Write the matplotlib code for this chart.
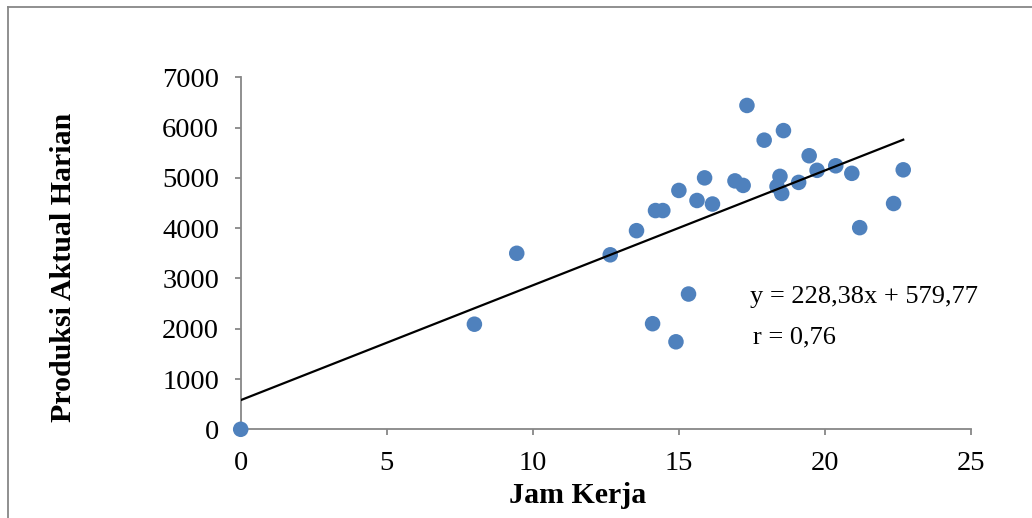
import matplotlib
matplotlib.use("Agg")
import matplotlib.pyplot as plt
from matplotlib.lines import Line2D
import numpy as np

# Data
jam_kerja = [0, 8.0, 9.45, 12.65, 13.55, 14.2, 14.45, 14.1, 14.9, 15.0, 15.33,
             15.62, 15.88, 16.15, 16.92, 17.2, 17.33, 17.92, 18.58, 18.36,
             18.46, 18.52, 19.1, 19.46, 19.73, 20.37, 20.92, 21.19, 22.35, 22.68]
produksi = [0, 2090, 3500, 3470, 3950, 4350, 4350, 2100, 1740, 4750, 2690,
            4550, 5000, 4480, 4940, 4850, 6440, 5750, 5940, 4830,
            5030, 4690, 4910, 5440, 5150, 5240, 5090, 4010, 4490, 5160]
slope = 228.38
intercept = 579.77
eq_label = "y = 228,38x + 579,77"
r_label = "r = 0,76"
x_ticks = [0, 5, 10, 15, 20, 25]
y_ticks = [0, 1000, 2000, 3000, 4000, 5000, 6000, 7000]

W, H = 1032, 518
fig = plt.figure(figsize=(W / 100, H / 100), dpi=100)
plt.rcParams['font.family'] = ['Liberation Serif', 'DejaVu Serif']

ax = fig.add_axes([240.7 / W, 1 - 429.3 / H, (971 - 240.7) / W, (429.3 - 77.3) / H])
ax.set_xlim(0, 25)
ax.set_ylim(0, 7000)

grey = '#878787'
for s in ['top', 'right']:
    ax.spines[s].set_visible(False)
for s in ['left', 'bottom']:
    ax.spines[s].set_color(grey)
    ax.spines[s].set_linewidth(1.3)

ax.set_xticks(x_ticks)
ax.set_yticks(y_ticks)
ax.set_xticklabels([str(v) for v in x_ticks])
ax.set_yticklabels([str(v) for v in y_ticks])
ax.tick_params(axis='both', direction='out', length=4.5, width=1.3, color=grey,
               labelsize=20.5, labelcolor='black')
ax.tick_params(axis='y', pad=11)
ax.tick_params(axis='x', pad=11)

ax.scatter(jam_kerja, produksi, s=125, color='#4F81BD', edgecolors='none',
           zorder=3, clip_on=False)

xs = np.array([0, max(jam_kerja)])
ax.plot(xs, slope * xs + intercept, color='black', lw=1.6, zorder=4)

fig.text(750 / W, 1 - 303 / H, eq_label, fontsize=19, ha='left', va='baseline')
fig.text(753 / W, 1 - 343 / H, r_label, fontsize=19, ha='left', va='baseline')

fig.text(578 / W, 1 - 503 / H, "Jam Kerja", fontsize=21.5, fontweight='bold',
         ha='center', va='baseline')
fig.text(64 / W, 1 - 267 / H, "Produksi Aktual Harian", fontsize=21.5,
         fontweight='bold', rotation=90, ha='center', va='center')

# outer frame lines (left and top)
fig.add_artist(Line2D([8 / W, 8 / W], [0, 1 - 7.3 / H], transform=fig.transFigure,
                      color=grey, lw=1.3))
fig.add_artist(Line2D([8 / W, 1], [1 - 7.3 / H, 1 - 7.3 / H], transform=fig.transFigure,
                      color=grey, lw=1.3))

fig.savefig("out.png", dpi=100)
